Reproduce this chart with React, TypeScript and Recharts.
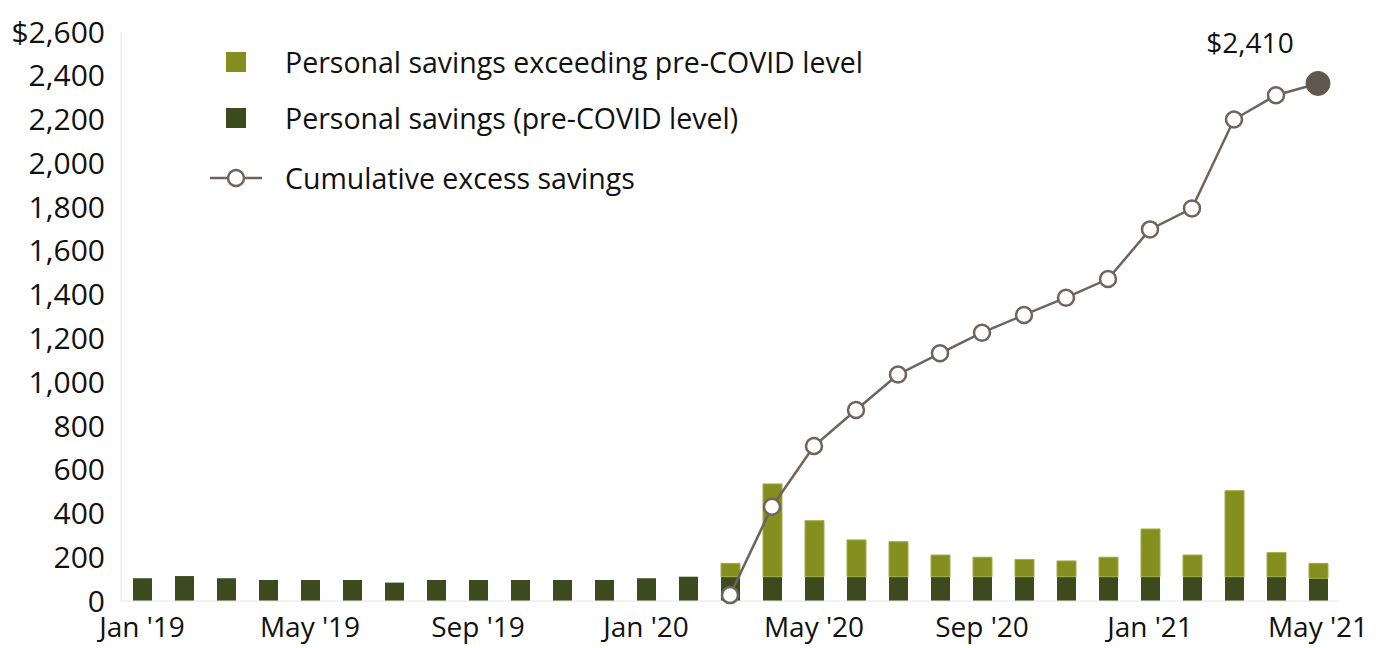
import React from 'react';
import { ComposedChart, Bar, Line, XAxis, YAxis, LabelList } from 'recharts';

const months = [
  "Jan '19", "Feb '19", "Mar '19", "Apr '19", "May '19", "Jun '19", "Jul '19", "Aug '19",
  "Sep '19", "Oct '19", "Nov '19", "Dec '19", "Jan '20", "Feb '20", "Mar '20", "Apr '20",
  "May '20", "Jun '20", "Jul '20", "Aug '20", "Sep '20", "Oct '20", "Nov '20", "Dec '20",
  "Jan '21", "Feb '21", "Mar '21", "Apr '21", "May '21",
];

// personal savings at (or up to) the pre-COVID level, $bn
const preCovid = [
  104, 114, 104, 96, 96, 96, 84, 96, 96, 96, 96, 96, 104, 111,
  111, 111, 111, 111, 111, 111, 111, 111, 111, 111, 111, 111, 111, 111, 104,
];

// savings above the pre-COVID level
const excess = [
  0, 0, 0, 0, 0, 0, 0, 0, 0, 0, 0, 0, 0, 0,
  61, 424, 256, 168, 160, 99, 89, 79, 72, 89, 218, 99, 393, 110, 68,
];

// cumulative excess savings (starts Mar '20)
const cumulative: (number | null)[] = [
  null, null, null, null, null, null, null, null, null, null, null, null, null, null,
  27, 431, 708, 873, 1035, 1132, 1226, 1307, 1386, 1471, 1698, 1794, 2200, 2311, 2365,
];

const yTicks = [0, 200, 400, 600, 800, 1000, 1200, 1400, 1600, 1800, 2000, 2200, 2400, 2600];
const endLabel = '$2,410';

const OLIVE = '#858f1f';
const DARK = '#3c4a1e';
const LINE = '#6f635b';
const FONT = '"Open Sans", "Noto Sans", sans-serif';

const data = months.map((m, i) => ({
  month: m,
  pre: preCovid[i],
  excess: excess[i],
  cum: cumulative[i],
}));

const lastIdx = months.length - 1;

const CumDot = (props: any) => {
  const { cx, cy, index, value } = props;
  if (value == null || cx == null) return null;
  if (index === lastIdx) {
    return <circle key={index} cx={cx} cy={cy} r={12} fill="#62574f" stroke="#62574f" strokeWidth={1} />;
  }
  return <circle key={index} cx={cx} cy={cy} r={8} fill="#fff" stroke={LINE} strokeWidth={2.5} />;
};

const EndLabel = (props: any) => {
  const { x, y, index } = props;
  if (index !== lastIdx) return null;
  return (
    <text x={x - 68} y={y - 30} textAnchor="middle" fontSize={28} fontFamily={FONT} fill="#111">
      {endLabel}
    </text>
  );
};

// legend drawn over the plot, top-left
const LegendBox = () => (
  <svg width={720} height={170} style={{ position: 'absolute', left: 210, top: 40, overflow: 'visible' }}>
    <rect x={16} y={12} width={20} height={20} fill={OLIVE} />
    <text x={75} y={22} dominantBaseline="central" fontSize={28.5} fontFamily={FONT} fill="#111">
      Personal savings exceeding pre-COVID level
    </text>
    <rect x={16} y={68} width={20} height={20} fill={DARK} />
    <text x={75} y={78} dominantBaseline="central" fontSize={28.5} fontFamily={FONT} fill="#111">
      Personal savings (pre-COVID level)
    </text>
    <line x1={0} y1={138} x2={52} y2={138} stroke={LINE} strokeWidth={2.5} />
    <circle cx={26} cy={138} r={8} fill="#fff" stroke={LINE} strokeWidth={2.5} />
    <text x={75} y={138} dominantBaseline="central" fontSize={28.5} fontFamily={FONT} fill="#111">
      Cumulative excess savings
    </text>
  </svg>
);

export default function App() {
  return (
    <div style={{ position: 'absolute', left: 0, top: 0, width: 1382, height: 648, background: '#fff' }}>
      <ComposedChart
        width={1382}
        height={648}
        data={data}
        margin={{ top: 32, right: 43, left: 0, bottom: 0 }}
        barSize={19}
      >
        <XAxis
          dataKey="month"
          interval={3}
          height={47}
          axisLine={{ stroke: '#ece2de' }}
          tickLine={false}
          tickSize={6}
          tickMargin={10}
          tick={{ fontSize: 28, fill: '#111', fontFamily: FONT }}
        />
        <YAxis
          domain={[0, 2600]}
          ticks={yTicks}
          width={121}
          interval={0}
          axisLine={{ stroke: '#ece2de' }}
          tickLine={false}
          tickSize={6}
          tickMargin={10}
          tick={{ fontSize: 30, fill: '#111', fontFamily: FONT }}
          tickFormatter={(v: number) => (v === 2600 ? '$2,600' : v.toLocaleString('en-US'))}
        />
        <Bar dataKey="pre" stackId="s" fill={DARK} isAnimationActive={false} />
        <Bar dataKey="excess" stackId="s" fill={OLIVE} stroke="#a3ab45" strokeWidth={1} isAnimationActive={false} />
        <Line
          dataKey="cum"
          stroke={LINE}
          strokeWidth={2.5}
          dot={<CumDot />}
          activeDot={false}
          connectNulls={false}
          isAnimationActive={false}
        >
          <LabelList dataKey="cum" content={<EndLabel />} />
        </Line>
      </ComposedChart>
      <LegendBox />
    </div>
  );
}
